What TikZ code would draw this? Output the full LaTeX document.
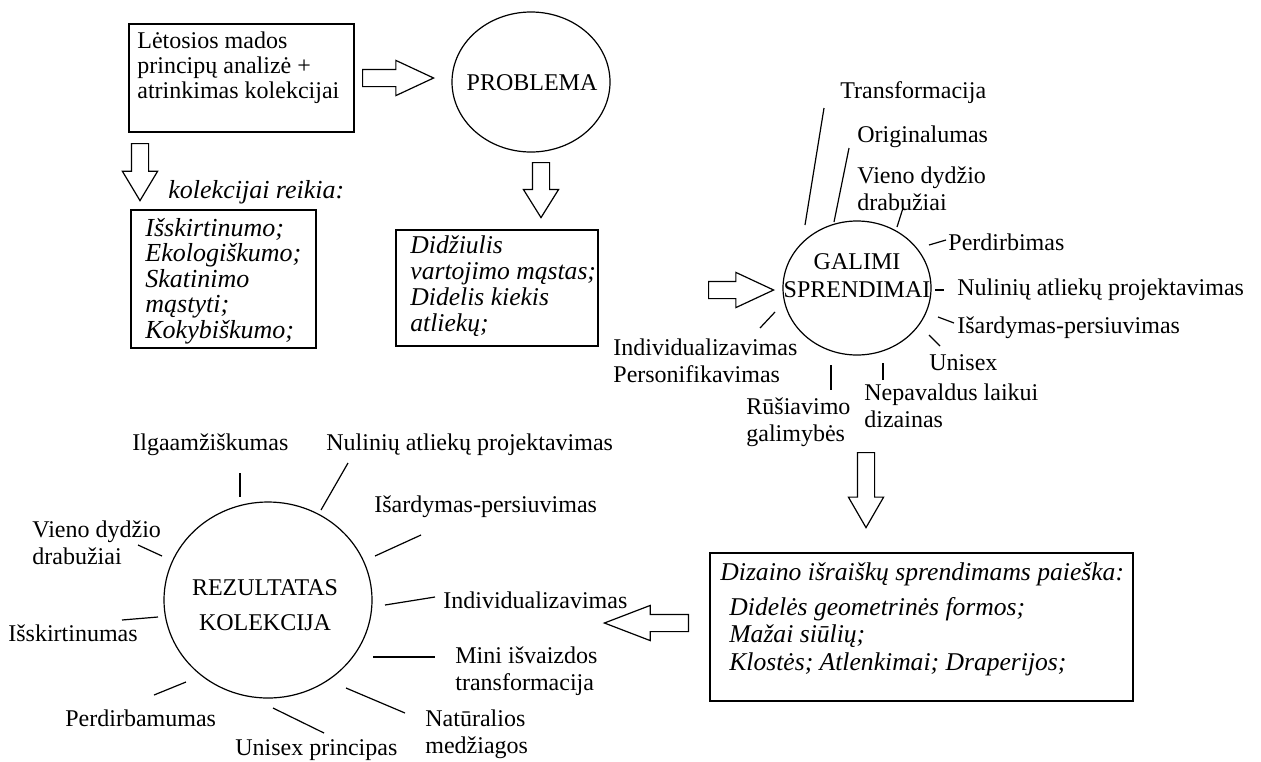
\documentclass[tikz,border=0pt]{standalone}
\usepackage{fontspec}
\setmainfont{Liberation Serif}
\usetikzlibrary{positioning,shapes.geometric,shapes.arrows}

\begin{document}
\begin{tikzpicture}
  [x=0.5pt,y=-0.5pt,
   every node/.style={inner sep=0pt,font=\fontsize{12}{13.75}\selectfont},
   lbl/.style={anchor=west,align=left},
   frame/.style={draw,line width=0.75pt,anchor=north west},
   btxt/.style={anchor=north west,align=left,font=\fontsize{12.8}{13}\selectfont\itshape},
   elli/.style={draw,ellipse,line width=0.6pt},
   hol/.style={single arrow,draw,line width=0.6pt,inner sep=4pt,
     single arrow head extend=4.5pt,single arrow tip angle=60,anchor=tail},
   spoke/.style={line width=0.6pt}]
  \useasboundingbox (0,0) rectangle (1261,761);

  % upper part
  \node[frame,minimum width=112.5pt,minimum height=54pt] (box1) at (128,23) {};
  \node[btxt,font=\fontsize{12}{12.5}\selectfont] (box1t) at (137,31)
    {Lėtosios mados\\principų analizė +\\atrinkimas kolekcijai};
  \node[hol,single arrow tip angle=50,minimum height=35.5pt] (ar1) at (362,78) {};
  \node[elli,minimum width=79pt,minimum height=70pt] (prob) at (531,82) {};
  \node (probt) at (532,83) {PROBLEMA};
  \node[hol,rotate=-90,single arrow tip angle=62,minimum height=28.5pt] (ar2) at (140,143) {};
  \node[lbl,font=\fontsize{13}{13}\selectfont\itshape] (reik) at (168,192) {kolekcijai reikia:};
  \node[frame,minimum width=92.5pt,minimum height=69pt] (box2) at (130,209) {};
  \node[btxt,font=\fontsize{13}{12.75}\selectfont\itshape] (box2t) at (145,218)
    {Išskirtinumo;\\Ekologiškumo;\\Skatinimo\\mąstyti;\\Kokybiškumo;};
  \node[hol,rotate=-90,single arrow tip angle=64,minimum height=27.5pt] (ar3) at (541,162) {};
  \node[frame,minimum width=101pt,minimum height=58pt] (box3) at (395,229) {};
  \node[btxt] (box3t) at (410,235)
    {Didžiulis\\vartojimo mąstas;\\Didelis kiekis\\atliekų;};

  % galimi sprendimai
  \node[hol,single arrow tip angle=50,minimum height=32.5pt] (ar4) at (708,290) {};
  \node[elli,minimum width=74pt,minimum height=67pt] (gs) at (857,288) {};
  \node[align=center,font=\fontsize{12}{14}\selectfont] (gst) at (857,276) {GALIMI\\SPRENDIMAI};
  \node[lbl] (gtr) at (840,93) {Transformacija};
  \node[lbl] (gor) at (857,137) {Originalumas};
  \node[lbl] (gvi) at (857,189) {Vieno dydžio\\drabužiai};
  \node[lbl] (gpe) at (948,242) {Perdirbimas};
  \node[lbl] (gnu) at (957,290) {Nulinių atliekų projektavimas};
  \node[lbl] (gis) at (957,328) {Išardymas-persiuvimas};
  \node[lbl] (gun) at (929,363) {Unisex};
  \node[lbl] (gne) at (864,406) {Nepavaldus laikui\\dizainas};
  \node[lbl] (grs) at (746,422) {Rūšiavimo\\galimybės};
  \node[lbl] (gin) at (613,361) {Individualizavimas\\Personifikavimas};
  \coordinate (g1a) at (824,108); \coordinate (g1b) at (805,225);
  \coordinate (g2a) at (849,148); \coordinate (g2b) at (834,222);
  \coordinate (g3a) at (903,208); \coordinate (g3b) at (897,227);
  \coordinate (g4a) at (929,245); \coordinate (g4b) at (946,240);
  \coordinate (g5a) at (935,290); \coordinate (g5b) at (944,290);
  \coordinate (g6a) at (938,317); \coordinate (g6b) at (954,323);
  \coordinate (g7a) at (929,335); \coordinate (g7b) at (940,346);
  \coordinate (g8a) at (883,363); \coordinate (g8b) at (883,380);
  \coordinate (g9a) at (831,365); \coordinate (g9b) at (831,390);
  \coordinate (g10a) at (760,328); \coordinate (g10b) at (775,312);
  \node[hol,rotate=-90,minimum height=37.5pt] (ar5) at (866,452) {};

  % paieska
  \node[frame,minimum width=211.5pt,minimum height=74pt] (box4) at (709,552) {};
  \node[btxt,font=\fontsize{12.8}{13.75}\selectfont\itshape] (box4t) at (720,562)
    {Dizaino išraiškų sprendimams paieška:\\[3.75pt]
     \hspace*{4.5pt}Didelės geometrinės formos;\\
     \hspace*{4.5pt}Mažai siūlių;\\
     \hspace*{4.5pt}Klostės; Atlenkimai; Draperijos;};
  \node[hol,rotate=180,single arrow tip angle=42,minimum height=42pt] (ar6) at (689,623) {};

  % rezultatas
  \node[elli,minimum width=104pt,minimum height=98pt] (rez) at (268,600) {};
  \node[align=center,font=\fontsize{12}{17.5}\selectfont] (rezt) at (265,605) {REZULTATAS\\KOLEKCIJA};
  \node[lbl] (ril) at (132,445) {Ilgaamžiškumas};
  \node[lbl] (rnu) at (326,445) {Nulinių atliekų projektavimas};
  \node[lbl] (ris) at (374,507) {Išardymas-persiuvimas};
  \node[lbl] (rvi) at (32,543) {Vieno dydžio\\drabužiai};
  \node[lbl] (rin) at (443,600) {Individualizavimas};
  \node[lbl] (rik) at (8,633) {Išskirtinumas};
  \node[lbl] (rmi) at (455,671) {Mini išvaizdos\\transformacija};
  \node[lbl] (rpe) at (65,718) {Perdirbamumas};
  \node[lbl] (run) at (235,750) {Unisex principas};
  \node[lbl] (rna) at (425,734) {Natūralios\\medžiagos};
  \coordinate (r1a) at (240,473); \coordinate (r1b) at (240,497);
  \coordinate (r2a) at (348,463); \coordinate (r2b) at (321,510);
  \coordinate (r3a) at (421,535); \coordinate (r3b) at (375,556);
  \coordinate (r4a) at (138,545); \coordinate (r4b) at (162,556);
  \coordinate (r5a) at (385,605); \coordinate (r5b) at (435,597);
  \coordinate (r6a) at (122,620); \coordinate (r6b) at (158,617);
  \coordinate (r7a) at (373,657); \coordinate (r7b) at (435,657);
  \coordinate (r8a) at (154,695); \coordinate (r8b) at (186,682);
  \coordinate (r9a) at (273,708); \coordinate (r9b) at (324,733);
  \coordinate (r10a) at (346,688); \coordinate (r10b) at (405,713);

  \foreach \from/\to in {g1a/g1b,g2a/g2b,g3a/g3b,g4a/g4b,g5a/g5b,g6a/g6b,g7a/g7b,g8a/g8b,g9a/g9b,g10a/g10b,
    r1a/r1b,r2a/r2b,r3a/r3b,r4a/r4b,r5a/r5b,r6a/r6b,r7a/r7b,r8a/r8b,r9a/r9b,r10a/r10b}
    \draw[spoke] (\from) -- (\to);
\end{tikzpicture}
\end{document}
